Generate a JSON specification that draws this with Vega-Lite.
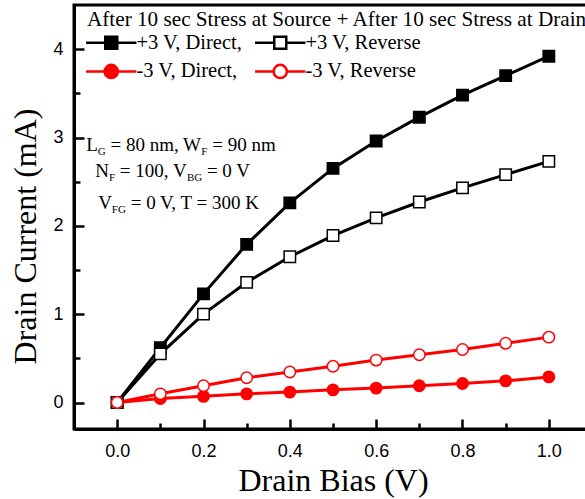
{
  "$schema": "https://vega.github.io/schema/vega-lite/v6.json",
  "width": 518,
  "height": 424,
  "autosize": {"type": "none"},
  "padding": {"left": 74, "top": 5, "right": 0, "bottom": 70},
  "background": "white",
  "config": {
    "view": {"stroke": "black", "strokeWidth": 3},
    "axis": {
      "grid": false,
      "ticks": true,
      "domainColor": "black",
      "domainWidth": 3,
      "tickColor": "black",
      "tickWidth": 2.5,
      "labelColor": "black",
      "labelFont": "Liberation Sans",
      "labelFontSize": 18,
      "labelFlush": false,
      "labelOverlap": false,
      "titleColor": "black",
      "titleFont": "Liberation Serif",
      "titleFontSize": 32,
      "titleFontWeight": "normal"
    }
  },
  "data": {
    "values": [
      {"x": 0.0, "y": 0.0, "s": "+3 V, Direct,"},
      {"x": 0.1, "y": 0.62, "s": "+3 V, Direct,"},
      {"x": 0.2, "y": 1.23, "s": "+3 V, Direct,"},
      {"x": 0.3, "y": 1.79, "s": "+3 V, Direct,"},
      {"x": 0.4, "y": 2.26, "s": "+3 V, Direct,"},
      {"x": 0.5, "y": 2.65, "s": "+3 V, Direct,"},
      {"x": 0.6, "y": 2.96, "s": "+3 V, Direct,"},
      {"x": 0.7, "y": 3.23, "s": "+3 V, Direct,"},
      {"x": 0.8, "y": 3.48, "s": "+3 V, Direct,"},
      {"x": 0.9, "y": 3.70, "s": "+3 V, Direct,"},
      {"x": 1.0, "y": 3.92, "s": "+3 V, Direct,"},
      {"x": 0.0, "y": 0.0, "s": "+3 V, Reverse"},
      {"x": 0.1, "y": 0.55, "s": "+3 V, Reverse"},
      {"x": 0.2, "y": 1.0, "s": "+3 V, Reverse"},
      {"x": 0.3, "y": 1.36, "s": "+3 V, Reverse"},
      {"x": 0.4, "y": 1.65, "s": "+3 V, Reverse"},
      {"x": 0.5, "y": 1.89, "s": "+3 V, Reverse"},
      {"x": 0.6, "y": 2.09, "s": "+3 V, Reverse"},
      {"x": 0.7, "y": 2.27, "s": "+3 V, Reverse"},
      {"x": 0.8, "y": 2.43, "s": "+3 V, Reverse"},
      {"x": 0.9, "y": 2.58, "s": "+3 V, Reverse"},
      {"x": 1.0, "y": 2.73, "s": "+3 V, Reverse"},
      {"x": 0.0, "y": 0.0, "s": "-3 V, Direct,"},
      {"x": 0.1, "y": 0.045, "s": "-3 V, Direct,"},
      {"x": 0.2, "y": 0.07, "s": "-3 V, Direct,"},
      {"x": 0.3, "y": 0.098, "s": "-3 V, Direct,"},
      {"x": 0.4, "y": 0.118, "s": "-3 V, Direct,"},
      {"x": 0.5, "y": 0.143, "s": "-3 V, Direct,"},
      {"x": 0.6, "y": 0.163, "s": "-3 V, Direct,"},
      {"x": 0.7, "y": 0.19, "s": "-3 V, Direct,"},
      {"x": 0.8, "y": 0.215, "s": "-3 V, Direct,"},
      {"x": 0.9, "y": 0.245, "s": "-3 V, Direct,"},
      {"x": 1.0, "y": 0.29, "s": "-3 V, Direct,"},
      {"x": 0.0, "y": 0.0, "s": "-3 V, Reverse"},
      {"x": 0.1, "y": 0.098, "s": "-3 V, Reverse"},
      {"x": 0.2, "y": 0.19, "s": "-3 V, Reverse"},
      {"x": 0.3, "y": 0.28, "s": "-3 V, Reverse"},
      {"x": 0.4, "y": 0.345, "s": "-3 V, Reverse"},
      {"x": 0.5, "y": 0.41, "s": "-3 V, Reverse"},
      {"x": 0.6, "y": 0.48, "s": "-3 V, Reverse"},
      {"x": 0.7, "y": 0.54, "s": "-3 V, Reverse"},
      {"x": 0.8, "y": 0.60, "s": "-3 V, Reverse"},
      {"x": 0.9, "y": 0.67, "s": "-3 V, Reverse"},
      {"x": 1.0, "y": 0.74, "s": "-3 V, Reverse"}
    ]
  },
  "resolve": {
    "axis": {"x": "independent", "y": "independent"},
    "scale": {"shape": "independent", "fill": "independent", "stroke": "independent"}
  },
  "layer": [
    {
      "mark": {"type": "line", "strokeWidth": 3},
      "encoding": {
        "x": {"field": "x", "type": "quantitative", "scale": {"domain": [-0.1, 1.1], "nice": false, "zero": false},
          "axis": {"orient": "bottom", "values": [0, 0.2, 0.4, 0.6, 0.8, 1.0], "format": ".1f", "tickSize": -10, "labelPadding": 23, "title": "Drain Bias (V)", "titleY": 61, "titleBaseline": "alphabetic"}},
        "y": {"field": "y", "type": "quantitative", "scale": {"domain": [-0.3, 4.5], "nice": false, "zero": false},
          "axis": {"orient": "left", "values": [0, 1, 2, 3, 4], "format": "d", "tickSize": -10, "labelPadding": 21, "title": "Drain Current (mA)", "titleX": -39, "titleY": 231, "titleBaseline": "alphabetic"}},
        "color": {"field": "s", "type": "nominal",
          "scale": {"domain": ["+3 V, Direct,", "+3 V, Reverse", "-3 V, Direct,", "-3 V, Reverse"], "range": ["black", "black", "red", "red"]},
          "legend": null}
      }
    },
    {
      "mark": {"type": "point", "strokeWidth": 1.5, "opacity": 1},
      "encoding": {
        "x": {"field": "x", "type": "quantitative",
          "axis": {"orient": "bottom", "values": [0.1, 0.3, 0.5, 0.7, 0.9], "tickSize": -6, "labels": false, "domain": false, "title": null}},
        "y": {"field": "y", "type": "quantitative",
          "axis": {"orient": "left", "values": [0.5, 1.5, 2.5, 3.5], "tickSize": -6, "labels": false, "domain": false, "title": null}},
        "shape": {"field": "s", "type": "nominal",
          "scale": {"domain": ["+3 V, Direct,", "+3 V, Reverse", "-3 V, Direct,", "-3 V, Reverse"], "range": ["square", "square", "circle", "circle"]},
          "legend": null},
        "fill": {"field": "s", "type": "nominal",
          "scale": {"domain": ["+3 V, Direct,", "+3 V, Reverse", "-3 V, Direct,", "-3 V, Reverse"], "range": ["black", "white", "red", "white"]},
          "legend": null},
        "stroke": {"field": "s", "type": "nominal",
          "scale": {"domain": ["+3 V, Direct,", "+3 V, Reverse", "-3 V, Direct,", "-3 V, Reverse"], "range": ["black", "black", "red", "red"]},
          "legend": null},
        "size": {"field": "s", "type": "nominal",
          "scale": {"domain": ["+3 V, Direct,", "+3 V, Reverse", "-3 V, Direct,", "-3 V, Reverse"], "range": [130, 130, 144, 144]},
          "legend": null}
      }
    },
    {
      "data": {"values": []},
      "mark": {"type": "point", "strokeWidth": 2.5, "opacity": 1},
      "encoding": {
        "x": {"field": "x", "type": "quantitative", "axis": null},
        "y": {"field": "y", "type": "quantitative", "axis": null},
        "shape": {"field": "s", "type": "nominal",
          "scale": {"domain": ["+3 V, Direct,", "-3 V, Direct,", "+3 V, Reverse", "-3 V, Reverse"],
            "range": ["M-4.2,0H-1M1,0H4.2M-1,-1H1V1H-1Z", "M-4.2,0H-1.1M1.1,0H4.2M1.1,0A1.1,1.1 0 1,1 -1.1,0A1.1,1.1 0 1,1 1.1,0Z", "M-4.2,0H-1M1,0H4.2M-1,-1H1V1H-1Z", "M-4.2,0H-1.1M1.1,0H4.2M1.1,0A1.1,1.1 0 1,1 -1.1,0A1.1,1.1 0 1,1 1.1,0Z"]},
          "legend": {
            "title": "After 10 sec Stress at Source + After 10 sec Stress at Drain",
            "orient": "none", "legendX": 13, "legendY": 4, "columns": 2,
            "titleFont": "Liberation Serif", "titleFontSize": 21.2, "titleFontWeight": "normal", "titleColor": "black", "titleLimit": 0, "titlePadding": 2,
            "labelFont": "Liberation Serif", "labelFontSize": 20.5, "labelColor": "black", "labelLimit": 0,
            "symbolSize": 144, "symbolStrokeWidth": 2.5, "symbolOpacity": 1, "symbolOffset": 14, "labelOffset": 15, "columnPadding": 7, "rowPadding": 5
          }},
        "fill": {"field": "s", "type": "nominal",
          "scale": {"domain": ["+3 V, Direct,", "-3 V, Direct,", "+3 V, Reverse", "-3 V, Reverse"], "range": ["black", "red", "white", "white"]},
          "legend": {"title": "After 10 sec Stress at Source + After 10 sec Stress at Drain"}},
        "stroke": {"field": "s", "type": "nominal",
          "scale": {"domain": ["+3 V, Direct,", "-3 V, Direct,", "+3 V, Reverse", "-3 V, Reverse"], "range": ["black", "red", "black", "red"]},
          "legend": {"title": "After 10 sec Stress at Source + After 10 sec Stress at Drain"}}
      }
    },
    {"data": {"values": [{}]}, "mark": {"type": "text", "align": "left", "baseline": "alphabetic", "font": "Liberation Serif", "fontSize": 19, "color": "black", "dx": 0},
      "encoding": {"x": {"datum": -0.0718, "type": "quantitative", "axis": null}, "y": {"datum": 2.852, "type": "quantitative", "axis": null}, "text": {"value": "L"}}},
    {"data": {"values": [{}]}, "mark": {"type": "text", "align": "left", "baseline": "alphabetic", "font": "Liberation Serif", "fontSize": 11, "color": "black", "dx": 11.6, "dy": 4},
      "encoding": {"x": {"datum": -0.0718, "type": "quantitative", "axis": null}, "y": {"datum": 2.852, "type": "quantitative", "axis": null}, "text": {"value": "G"}}},
    {"data": {"values": [{}]}, "mark": {"type": "text", "align": "left", "baseline": "alphabetic", "font": "Liberation Serif", "fontSize": 19, "color": "black", "dx": 24.3},
      "encoding": {"x": {"datum": -0.0718, "type": "quantitative", "axis": null}, "y": {"datum": 2.852, "type": "quantitative", "axis": null}, "text": {"value": "= 80 nm, W"}}},
    {"data": {"values": [{}]}, "mark": {"type": "text", "align": "left", "baseline": "alphabetic", "font": "Liberation Serif", "fontSize": 11, "color": "black", "dx": 115.2, "dy": 4},
      "encoding": {"x": {"datum": -0.0718, "type": "quantitative", "axis": null}, "y": {"datum": 2.852, "type": "quantitative", "axis": null}, "text": {"value": "F"}}},
    {"data": {"values": [{}]}, "mark": {"type": "text", "align": "left", "baseline": "alphabetic", "font": "Liberation Serif", "fontSize": 19, "color": "black", "dx": 126.1},
      "encoding": {"x": {"datum": -0.0718, "type": "quantitative", "axis": null}, "y": {"datum": 2.852, "type": "quantitative", "axis": null}, "text": {"value": "= 90 nm"}}},
    {"data": {"values": [{}]}, "mark": {"type": "text", "align": "left", "baseline": "alphabetic", "font": "Liberation Serif", "fontSize": 19, "color": "black", "dx": 0},
      "encoding": {"x": {"datum": -0.0509, "type": "quantitative", "axis": null}, "y": {"datum": 2.558, "type": "quantitative", "axis": null}, "text": {"value": "N"}}},
    {"data": {"values": [{}]}, "mark": {"type": "text", "align": "left", "baseline": "alphabetic", "font": "Liberation Serif", "fontSize": 11, "color": "black", "dx": 13.7, "dy": 4},
      "encoding": {"x": {"datum": -0.0509, "type": "quantitative", "axis": null}, "y": {"datum": 2.558, "type": "quantitative", "axis": null}, "text": {"value": "F"}}},
    {"data": {"values": [{}]}, "mark": {"type": "text", "align": "left", "baseline": "alphabetic", "font": "Liberation Serif", "fontSize": 19, "color": "black", "dx": 24.6},
      "encoding": {"x": {"datum": -0.0509, "type": "quantitative", "axis": null}, "y": {"datum": 2.558, "type": "quantitative", "axis": null}, "text": {"value": "= 100, V"}}},
    {"data": {"values": [{}]}, "mark": {"type": "text", "align": "left", "baseline": "alphabetic", "font": "Liberation Serif", "fontSize": 11, "color": "black", "dx": 91.7, "dy": 4},
      "encoding": {"x": {"datum": -0.0509, "type": "quantitative", "axis": null}, "y": {"datum": 2.558, "type": "quantitative", "axis": null}, "text": {"value": "BG"}}},
    {"data": {"values": [{}]}, "mark": {"type": "text", "align": "left", "baseline": "alphabetic", "font": "Liberation Serif", "fontSize": 19, "color": "black", "dx": 111.7},
      "encoding": {"x": {"datum": -0.0509, "type": "quantitative", "axis": null}, "y": {"datum": 2.558, "type": "quantitative", "axis": null}, "text": {"value": "= 0 V"}}},
    {"data": {"values": [{}]}, "mark": {"type": "text", "align": "left", "baseline": "alphabetic", "font": "Liberation Serif", "fontSize": 19, "color": "black", "dx": 0},
      "encoding": {"x": {"datum": -0.044, "type": "quantitative", "axis": null}, "y": {"datum": 2.185, "type": "quantitative", "axis": null}, "text": {"value": "V"}}},
    {"data": {"values": [{}]}, "mark": {"type": "text", "align": "left", "baseline": "alphabetic", "font": "Liberation Serif", "fontSize": 11, "color": "black", "dx": 13.7, "dy": 4},
      "encoding": {"x": {"datum": -0.044, "type": "quantitative", "axis": null}, "y": {"datum": 2.185, "type": "quantitative", "axis": null}, "text": {"value": "FG"}}},
    {"data": {"values": [{}]}, "mark": {"type": "text", "align": "left", "baseline": "alphabetic", "font": "Liberation Serif", "fontSize": 19, "color": "black", "dx": 32.5},
      "encoding": {"x": {"datum": -0.044, "type": "quantitative", "axis": null}, "y": {"datum": 2.185, "type": "quantitative", "axis": null}, "text": {"value": "= 0 V, T = 300 K"}}}
  ]
}
